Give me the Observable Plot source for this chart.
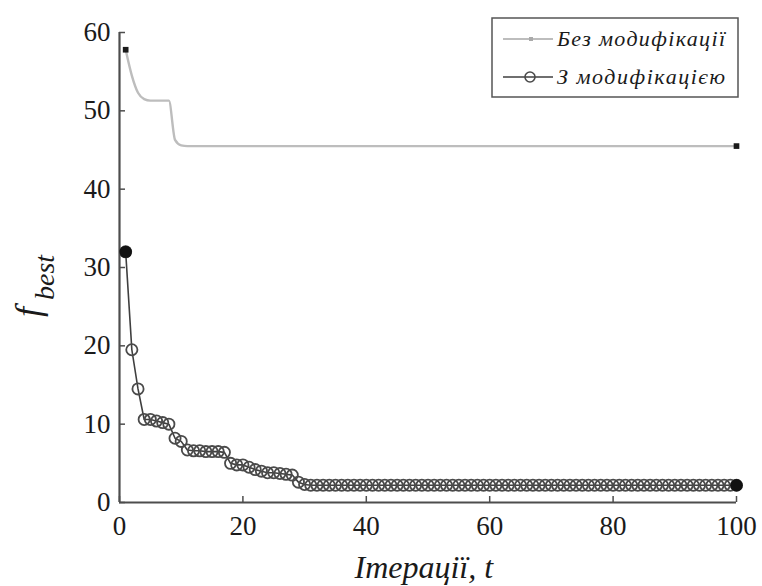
<!DOCTYPE html>
<html>
<head>
<meta charset="utf-8">
<script src="https://cdn.jsdelivr.net/npm/d3@7"></script>
<script src="https://cdn.jsdelivr.net/npm/@observablehq/plot@0.6"></script>
<style>
  html, body { margin: 0; padding: 0; background: #ffffff; }
  #chart { width: 762px; height: 586px; }
</style>
</head>
<body>
<div id="chart"></div>
<script>
// ---- data ----
const seriesNames = ["Без модифікації", "З модифікацією"];
const xLabel = "Ітерації, t";
const yLabelMain = "f";
const yLabelSub = "best";
const xTicks = [0, 20, 40, 60, 80, 100];
const yTicks = [0, 10, 20, 30, 40, 50, 60];
const iterations = d3.range(1, 101);

// best value without modification (t = 1..100)
const withoutMod = [
  57.8, 54.5, 52.3, 51.5, 51.3, 51.3, 51.3, 51.3, 46.3, 45.6,
  45.5, 45.5, 45.5, 45.5, 45.5, 45.5, 45.5, 45.5, 45.5, 45.5,
  45.5, 45.5, 45.5, 45.5, 45.5, 45.5, 45.5, 45.5, 45.5, 45.5,
  45.5, 45.5, 45.5, 45.5, 45.5, 45.5, 45.5, 45.5, 45.5, 45.5,
  45.5, 45.5, 45.5, 45.5, 45.5, 45.5, 45.5, 45.5, 45.5, 45.5,
  45.5, 45.5, 45.5, 45.5, 45.5, 45.5, 45.5, 45.5, 45.5, 45.5,
  45.5, 45.5, 45.5, 45.5, 45.5, 45.5, 45.5, 45.5, 45.5, 45.5,
  45.5, 45.5, 45.5, 45.5, 45.5, 45.5, 45.5, 45.5, 45.5, 45.5,
  45.5, 45.5, 45.5, 45.5, 45.5, 45.5, 45.5, 45.5, 45.5, 45.5,
  45.5, 45.5, 45.5, 45.5, 45.5, 45.5, 45.5, 45.5, 45.5, 45.5
];

// best value with modification (t = 1..100)
const withMod = [
  32.0, 19.5, 14.5, 10.6, 10.6, 10.4, 10.2, 10.0, 8.2, 7.8,
  6.7, 6.6, 6.6, 6.5, 6.5, 6.5, 6.4, 5.0, 4.8, 4.8,
  4.5, 4.2, 4.0, 3.8, 3.8, 3.7, 3.6, 3.5, 2.6, 2.3,
  2.2, 2.2, 2.2, 2.2, 2.2, 2.2, 2.2, 2.2, 2.2, 2.2,
  2.2, 2.2, 2.2, 2.2, 2.2, 2.2, 2.2, 2.2, 2.2, 2.2,
  2.2, 2.2, 2.2, 2.2, 2.2, 2.2, 2.2, 2.2, 2.2, 2.2,
  2.2, 2.2, 2.2, 2.2, 2.2, 2.2, 2.2, 2.2, 2.2, 2.2,
  2.2, 2.2, 2.2, 2.2, 2.2, 2.2, 2.2, 2.2, 2.2, 2.2,
  2.2, 2.2, 2.2, 2.2, 2.2, 2.2, 2.2, 2.2, 2.2, 2.2,
  2.2, 2.2, 2.2, 2.2, 2.2, 2.2, 2.2, 2.2, 2.2, 2.2
];

// ---- layout ----
const W = 762, H = 586;
const mL = 119, mR = 26, mT = 32, mB = 84;
const plotW = W - mL - mR, plotH = H - mT - mB;
const tickLen = 6;

const rowsA = iterations.map((t, i) => ({t, v: withoutMod[i]}));
const rowsB = iterations.map((t, i) => ({t, v: withMod[i]}));
const endsA = [rowsA[0], rowsA[rowsA.length - 1]];
const endsB = [rowsB[0], rowsB[rowsB.length - 1]];

const axisColor = "#4d4d4d";
const grayLine = "#bdbdbd";
const darkLine = "#3f3f3f";
const circleStroke = "#4a4a4a";

const chart = Plot.plot({
  width: W,
  height: H,
  marginLeft: mL,
  marginRight: mR,
  marginTop: mT,
  marginBottom: mB,
  style: {fontFamily: "'Liberation Serif', 'DejaVu Serif', serif", fontSize: "27px", color: "#1a1a1a", background: "#ffffff"},
  x: {domain: [0, 100]},
  y: {domain: [0, 60]},
  marks: [
    Plot.axisX(xTicks, {tickSize: 0, tickPadding: 13, label: null, fontSize: 27}),
    Plot.axisY(yTicks, {tickSize: 0, tickPadding: 9, label: null, fontSize: 27}),
    Plot.tickX(xTicks, {x: d => d, stroke: axisColor, strokeWidth: 1.5, insetTop: plotH - tickLen}),
    Plot.tickY(yTicks, {y: d => d, stroke: axisColor, strokeWidth: 1.5, insetRight: plotW - tickLen}),
    Plot.ruleX([0], {stroke: axisColor, strokeWidth: 2.2}),
    Plot.ruleY([0], {stroke: axisColor, strokeWidth: 2.2}),
    Plot.line(rowsA, {x: "t", y: "v", stroke: grayLine, strokeWidth: 2.4, curve: "monotone-x"}),
    Plot.dot(endsA, {x: "t", y: "v", symbol: "square", r: 3.2, fill: "#1a1a1a", stroke: "none"}),
    Plot.line(rowsB, {x: "t", y: "v", stroke: darkLine, strokeWidth: 1.6}),
    Plot.dot(rowsB, {x: "t", y: "v", r: 5.6, fill: "none", stroke: circleStroke, strokeWidth: 1.8}),
    Plot.dot(endsB, {x: "t", y: "v", r: 6.2, fill: "#111", stroke: "none"})
  ]
});

document.getElementById("chart").appendChild(chart);

// ---- labels and legend ----
const svg = d3.select(chart);
const serif = "'Liberation Serif', 'DejaVu Serif', serif";

svg.append("text")
  .attr("x", mL + plotW * 0.494)
  .attr("y", 578)
  .attr("text-anchor", "middle")
  .attr("font-family", serif)
  .attr("font-style", "italic")
  .attr("font-size", 32)
  .attr("fill", "#1a1a1a")
  .text(xLabel);

const yl = svg.append("g").attr("transform", "translate(40,317) rotate(-90)");
yl.append("text")
  .attr("x", 0).attr("y", 0)
  .attr("text-anchor", "start")
  .attr("font-family", serif).attr("font-style", "italic")
  .attr("font-size", 36).attr("fill", "#1a1a1a")
  .text(yLabelMain);
yl.append("text")
  .attr("x", 17).attr("y", 14)
  .attr("text-anchor", "start")
  .attr("font-family", serif).attr("font-style", "italic")
  .attr("font-size", 28).attr("fill", "#1a1a1a")
  .text(yLabelSub);

const lg = svg.append("g");
lg.append("rect")
  .attr("x", 492).attr("y", 18).attr("width", 246).attr("height", 79)
  .attr("fill", "#fff").attr("stroke", "#555").attr("stroke-width", 1.5);
const rowsY = [39, 77];
const styles = [
  {stroke: grayLine, w: 2.2},
  {stroke: darkLine, w: 1.6}
];
seriesNames.forEach((name, i) => {
  const y = rowsY[i];
  lg.append("line").attr("x1", 503).attr("x2", 553).attr("y1", y).attr("y2", y)
    .attr("stroke", styles[i].stroke).attr("stroke-width", styles[i].w);
  if (i === 0) {
    lg.append("rect").attr("x", 529).attr("y", y - 2).attr("width", 4).attr("height", 4)
      .attr("fill", "#aaa");
  } else {
    lg.append("circle").attr("cx", 530).attr("cy", y).attr("r", 5)
      .attr("fill", "none").attr("stroke", circleStroke).attr("stroke-width", 1.6);
  }
  lg.append("text").attr("x", 557).attr("y", y + 7)
    .attr("text-anchor", "start")
    .attr("font-family", serif).attr("font-style", "italic")
    .attr("font-size", 22).attr("fill", "#1a1a1a")
    .attr("textLength", 168).attr("lengthAdjust", "spacing")
    .text(name);
});
</script>
</body>
</html>
